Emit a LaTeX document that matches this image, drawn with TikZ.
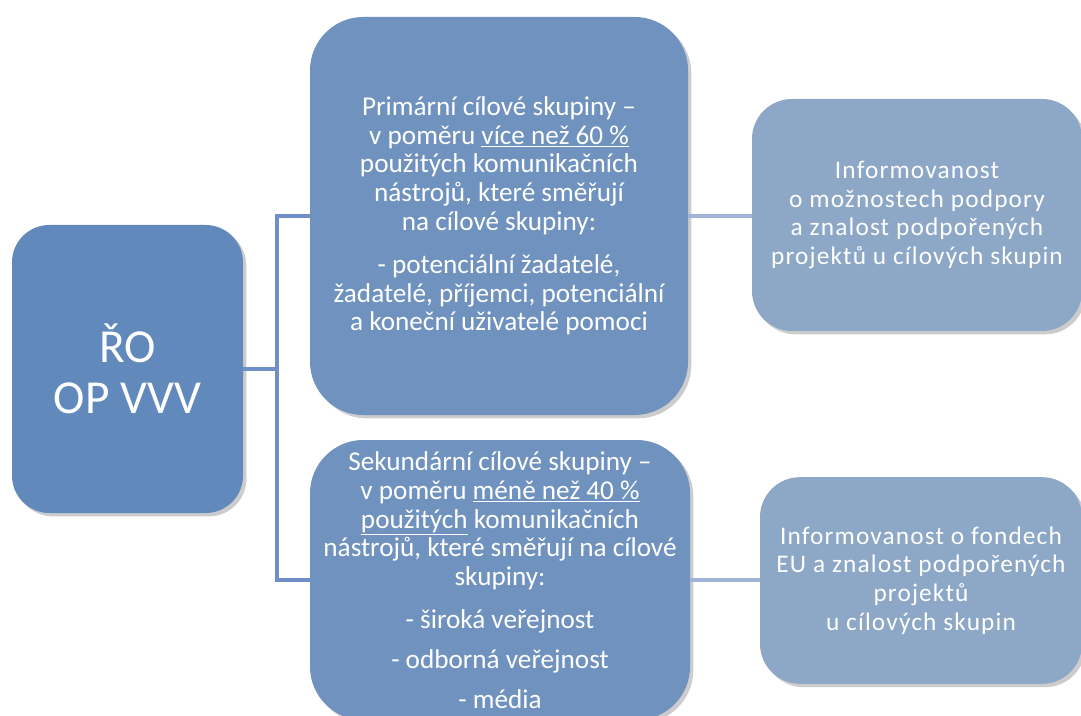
\documentclass[tikz,border=0pt]{standalone}
\usepackage{fontspec}
\setmainfont{Carlito}
\newfontfamily\widefont[LetterSpace=4.5]{Carlito}
\usetikzlibrary{shadows}
\definecolor{roblue}{HTML}{6189BC}
\definecolor{midblue}{HTML}{6F92BE}
\definecolor{paleblue}{HTML}{8DA7C6}
\definecolor{linkblue}{HTML}{6E8FC8}
\definecolor{linkpale}{HTML}{A0B4D6}
\begin{document}
\begin{tikzpicture}[x=0.75pt, y=-0.75pt,
    box/.style={rectangle, inner sep=0pt, align=center, text=white,
      drop shadow={shadow xshift=2.5pt, shadow yshift=-2.5pt, fill=black, opacity=0.2}},
    rootbox/.style={box, fill=roblue, rounded corners=28pt,
      minimum width=173.25pt, minimum height=216pt, font=\fontsize{35.5}{38}\selectfont},
    groupbox/.style={box, fill=midblue, rounded corners=40pt,
      font=\fontsize{20.4}{21.5}\selectfont},
    goalbox/.style={box, fill=paleblue, rounded corners=30pt,
      font=\widefont\fontsize{19}{21.5}\selectfont},
    link/.style={draw=linkblue, line width=3.5pt},
    linkgoal/.style={draw=linkpale, line width=3.5pt}]
      \useasboundingbox (0, 0) rectangle (1081, 716);

      \node[rootbox] (ro) at (127.5, 369) {ŘO\\OP VVV};

      \node[groupbox, minimum width=283.5pt, minimum height=298.5pt] (prim) at (499, 216)
        {Primární cílové skupiny –\\
         v poměru \underline{více než 60 \%}\\
         použitých komunikačních\\
         nástrojů, které směřují\\
         na cílové skupiny:\\[11pt]
         - potenciální žadatelé,\\
         žadatelé, příjemci, potenciální\\
         a koneční uživatelé pomoci};

      \node[groupbox, minimum width=285pt, minimum height=210pt] (sek) at (500, 580)
        {Sekundární cílové skupiny –\\
         v poměru \underline{méně než 40 \%}\\
         \underline{použitých} komunikačních\\
         nástrojů, které směřují na cílové\\
         skupiny:\\[10.5pt]
         - široká veřejnost\\[8.5pt]
         - odborná veřejnost\\[8.5pt]
         - média};

      \node[goalbox, minimum width=247.5pt, minimum height=174pt] (info1) at (917, 215)
        {Informovanost\\
         o možnostech podpory\\
         a znalost podpořených\\
         projektů u cílových skupin};

      \node[goalbox, minimum width=241.5pt, minimum height=155pt] (info2) at (921, 580.5)
        {Informovanost o fondech\\
         EU a znalost podpořených\\
         projektů\\
         u cílových skupin};

      % fork between the root and the two groups
      \coordinate (fork) at (277, 369);
      \draw[link] (ro.east) -- (fork);
      \draw[link] (prim.west) -| (fork) |- (sek.west);

      \draw[linkgoal] (prim.east) -- (prim.east -| info1.west);
      \draw[linkgoal] (sek.east) -- (sek.east -| info2.west);

    \end{tikzpicture}
\end{document}
